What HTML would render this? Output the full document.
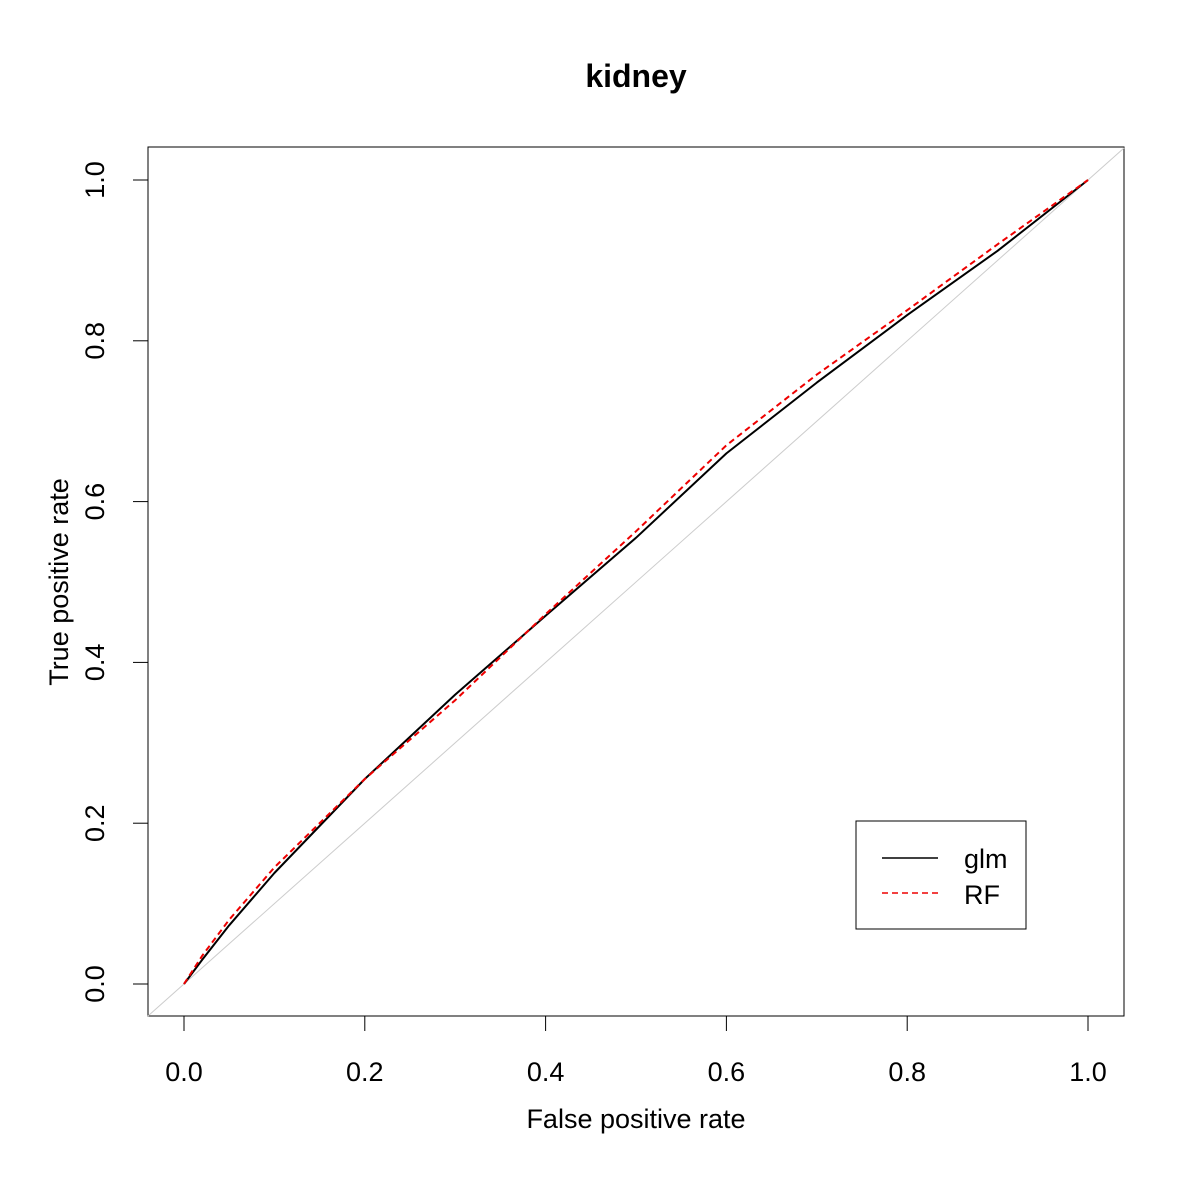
<!DOCTYPE html>
<html><head><meta charset="utf-8"><style>
body{margin:0;background:#fff}
svg{display:block;font-family:"Liberation Sans",sans-serif}
</style></head><body>
<svg id="c" width="1200" height="1200" viewBox="0 0 1200 1200">
<text x="636" y="87" text-anchor="middle" font-size="32" font-weight="bold">kidney</text>
<rect x="148" y="147" width="976" height="869" fill="none" stroke="#000" stroke-width="1"/>
<text x="636" y="1128" text-anchor="middle" font-size="27">False positive rate</text>
<text transform="translate(68,582) rotate(-90)" text-anchor="middle" font-size="27">True positive rate</text>
<g id="axes"></g>
<g id="series"></g>
<g>
<rect x="856" y="821" width="170" height="108" fill="#fff" stroke="#000"/>
<line x1="882" y1="858" x2="938" y2="858" stroke="#000" stroke-width="1.5"/>
<text x="964" y="868" font-size="27">glm</text>
<line x1="882" y1="893" x2="938" y2="893" stroke="#e00" stroke-width="1.5" stroke-dasharray="6,4"/>
<text x="964" y="904" font-size="27">RF</text>
</g>
</svg>
<script>
const ticks=[0,0.2,0.4,0.6,0.8,1.0];
const tickLabels=["0.0","0.2","0.4","0.6","0.8","1.0"];
const fpr=[0,0.02,0.05,0.1,0.2,0.3,0.4,0.5,0.6,0.7,0.8,0.9,1.0];
const glmTpr=[0,0.03,0.073,0.138,0.255,0.36,0.458,0.555,0.66,0.748,0.832,0.912,1.0];
const rfTpr=[0,0.035,0.08,0.145,0.255,0.353,0.46,0.563,0.67,0.758,0.838,0.92,1.0];
const NS="http://www.w3.org/2000/svg";
const X=v=>184+v*904, Y=v=>984-v*804;
const ax=document.getElementById('axes'), se=document.getElementById('series');
function mk(tag,attrs,parent){const e=document.createElementNS(NS,tag);for(const k in attrs)e.setAttribute(k,attrs[k]);parent.appendChild(e);return e;}
ticks.forEach((t,i)=>{
  let l=mk('line',{x1:X(t),x2:X(t),y1:1016,y2:1031,stroke:'#000'},ax);
  
  
  let tx=mk('text',{x:X(t),y:1081,'text-anchor':'middle','font-size':27},ax);tx.textContent=tickLabels[i];
  
  
  let l2=mk('line',{x1:133,x2:148,y1:Y(t),y2:Y(t),stroke:'#000'},ax);
  
  
  let ty=mk('text',{x:0,y:0,'text-anchor':'middle','font-size':27,transform:`translate(104,${Y(t)}) rotate(-90)`},ax);ty.textContent=tickLabels[i];
  
  
});
const diag=mk('line',{x1:X(-0.04),y1:Y(-0.04),x2:X(1.04),y2:Y(1.04),stroke:'#ccc'},se);


function path(vals,attrs,name){
  const d=fpr.map((f,i)=>(i?'L':'M')+X(f).toFixed(1)+','+Y(vals[i]).toFixed(1)).join('');
  const p=mk('path',Object.assign({d,fill:'none','stroke-width':2,'stroke-linejoin':'round'},attrs),se);
  
  
}
path(glmTpr,{stroke:'#000'},'glm-curve');
path(rfTpr,{stroke:'#e00','stroke-dasharray':'6,4'},'rf-curve');
</script>
</body></html>
